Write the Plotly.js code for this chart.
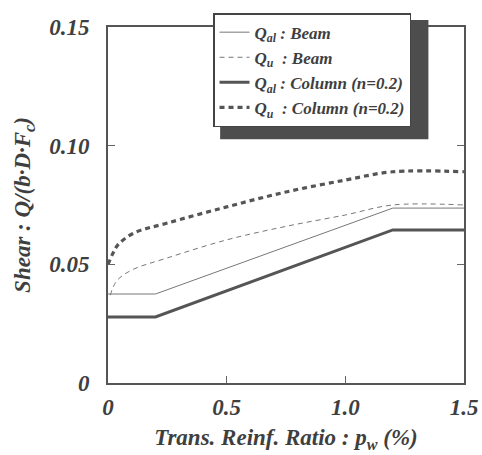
<!DOCTYPE html>
<html><head><meta charset="utf-8">
<script src="https://cdn.plot.ly/plotly-3.0.1.min.js"></script>
<style>
body{margin:0;background:#fff}
#c{width:482px;height:455px}
</style>
</head><body><div id="c"></div>
<script>
// Data
const qalBeamX = [0, 0.2, 1.2, 1.5];
const qalBeamY = [0.0375, 0.0375, 0.0737, 0.0737];
const qalColX = [0, 0.2, 1.2, 1.5];
const qalColY = [0.0278, 0.0278, 0.0645, 0.0645];
const quBeamX = [0.01, 0.02, 0.04, 0.1, 0.25, 0.5, 0.75, 1.0, 1.2, 1.5];
const quBeamY = [0.037, 0.040, 0.0434, 0.0476, 0.0527, 0.0603, 0.066, 0.0708, 0.075, 0.075];
const quColX = [0.0, 0.02, 0.04, 0.105, 0.25, 0.5, 0.75, 1.0, 1.2, 1.5];
const quColY = [0.050, 0.0545, 0.058, 0.063, 0.0674, 0.0742, 0.0805, 0.0855, 0.089, 0.089];
const names = ['Q<sub>al</sub> : Beam', 'Q<sub>u</sub>  : Beam', 'Q<sub>al</sub> : Column (n=0.2)', 'Q<sub>u</sub>  : Column (n=0.2)'];
const xTickVals = [0, 0.5, 1.0, 1.5];
const xTickText = ['0', '0.5', '1.0', '1.5'];
const yTickVals = [0, 0.05, 0.10, 0.15];
const yTickText = ['0', '0.05', '0.10', '0.15'];

const ff = 'Liberation Serif, Times New Roman, serif';
const txt = '#3f3f3f';
const traces = [
  {x: qalBeamX, y: qalBeamY, name: names[0], mode: 'lines', line: {color: '#777', width: 1}},
  {x: quBeamX, y: quBeamY, name: names[1], mode: 'lines', line: {color: '#777', width: 1, dash: '5px,4px', shape: 'spline'}},
  {x: qalColX, y: qalColY, name: names[2], mode: 'lines', line: {color: '#555', width: 3}},
  {x: quColX, y: quColY, name: names[3], mode: 'lines', line: {color: '#555', width: 3.2, dash: '5px,4px', shape: 'spline'}}
];
const axFont = {family: ff, size: 23, weight: 'bold', style: 'italic', color: txt};
const layout = {
  width: 482, height: 455,
  margin: {l: 108, r: 18, t: 27, b: 72},
  paper_bgcolor: '#fff', plot_bgcolor: '#fff',
  showlegend: true,
  xaxis: {range: [0, 1.5], tickvals: xTickVals, ticktext: xTickText, showgrid: false, zeroline: false,
    showline: true, linecolor: '#555', linewidth: 2, mirror: 'ticks', ticks: 'inside', ticklen: 7, tickcolor: '#666', tickwidth: 1,
    tickfont: axFont, ticklabelstandoff: 2,
    title: {text: 'Trans. Reinf. Ratio : p<sub>w</sub> (%)', font: axFont, standoff: 10}},
  yaxis: {range: [0, 0.15], tickvals: yTickVals, ticktext: yTickText, showgrid: false, zeroline: false,
    showline: true, linecolor: '#555', linewidth: 2, mirror: 'ticks', ticks: 'inside', ticklen: 7, tickcolor: '#666', tickwidth: 1,
    tickfont: axFont, ticklabelstandoff: 12,
    title: {text: 'Shear : Q/(b·D·F<sub>c</sub>)', font: axFont, standoff: 12}},
  legend: {x: 0.295, y: 1.039, xanchor: 'left', yanchor: 'top', bgcolor: '#fff', bordercolor: '#444', borderwidth: 1.5,
    font: {family: ff, size: 17, weight: 'bold', style: 'italic', color: txt}, tracegroupgap: 0, itemwidth: 30},
  // drop shadow of the legend box (sits behind the legend layer)
  shapes: [{type: 'rect', xref: 'paper', yref: 'paper', x0: 0.315, x1: 0.9, y0: 0.685, y1: 1.02,
    fillcolor: '#4d4d4d', line: {width: 0}, layer: 'above'}]
};
Plotly.newPlot('c', traces, layout, {displayModeBar: false, staticPlot: true});
</script></body></html>
